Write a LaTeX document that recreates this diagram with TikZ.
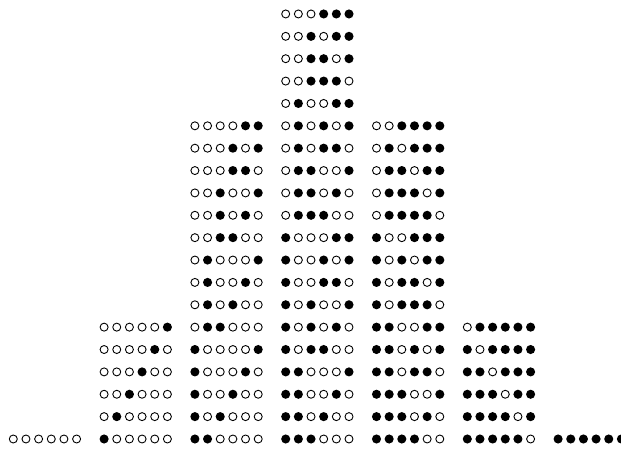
\documentclass[tikz,border=0pt]{standalone}
\tikzset{
  bitone/.style={fill=black},
  bitzero/.style={draw=black,line width=0.9pt}
}
\newcommand\bitstr[6]{%
  \foreach \b [count=\j from 0] in {#1,#2,#3,#4,#5,#6}{%
    \ifnum\b=1
      \fill[bitone] (\cx+12.66*\j,\cy) circle (4.55pt);
    \else
      \draw[bitzero] (\cx+12.66*\j,\cy) circle (4.0pt);
    \fi
  }%
}
\newcommand\bitcol[3]{% #1 column, #2 count, #3 list (top to bottom)
  \foreach \s [count=\i from 0] in {#3}{%
    \pgfmathsetmacro\cx{13.3+90.8*#1}%
    \pgfmathsetmacro\cy{11+22.37*(#2-1-\i)}%
    \expandafter\bitstr\s
  }%
}
\begin{document}
\begin{tikzpicture}[x=1pt,y=1pt]
  \useasboundingbox (0,0) rectangle (621,450);
  \fill[white] (0,0) rectangle (621,450);
  \clip (0,0) rectangle (621,450);
  \bitcol{0}{1}{000000}
  \bitcol{1}{6}{000001,000010,000100,001000,010000,100000}
  \bitcol{2}{15}{000011,000101,000110,001001,001010,001100,010001,010010,010100,011000,100001,100010,100100,101000,110000}
  \bitcol{3}{20}{000111,001011,001101,001110,010011,010101,010110,011001,011010,011100,100011,100101,100110,101001,101010,101100,110001,110010,110100,111000}
  \bitcol{4}{15}{001111,010111,011011,011101,011110,100111,101011,101101,101110,110011,110101,110110,111001,111010,111100}
  \bitcol{5}{6}{011111,101111,110111,111011,111101,111110}
  \bitcol{6}{1}{111111}
\end{tikzpicture}
\end{document}
